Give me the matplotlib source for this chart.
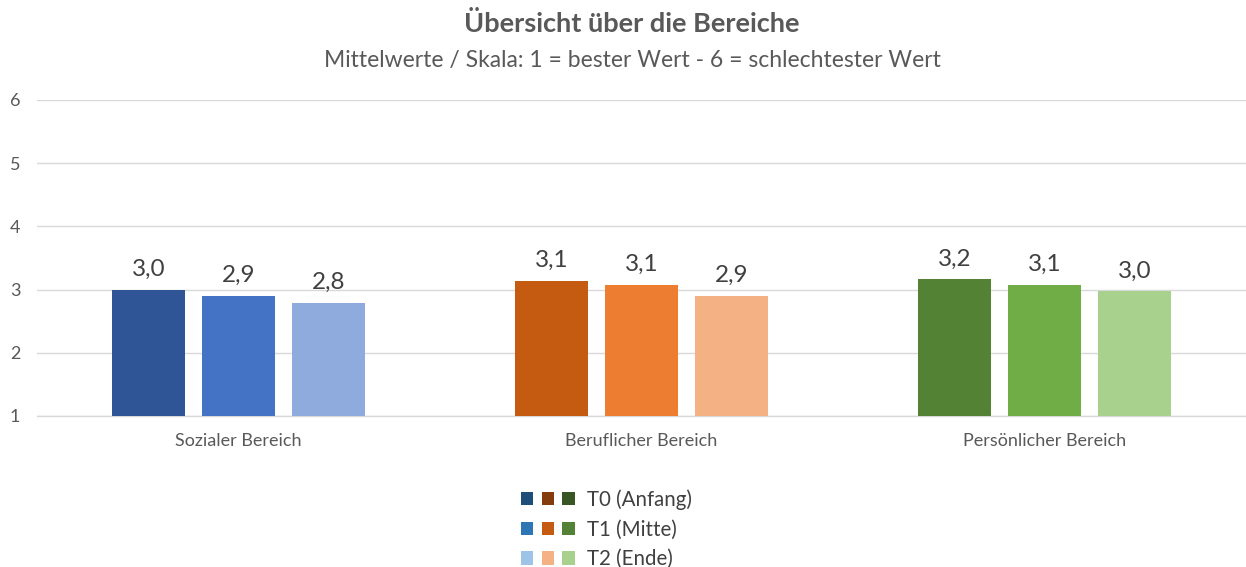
import matplotlib
matplotlib.use("Agg")
import matplotlib.pyplot as plt
from matplotlib.patches import Patch
from matplotlib.legend_handler import HandlerTuple
import numpy as np

plt.rcParams['font.family'] = ['Lato', 'DejaVu Sans']

categories = ["Sozialer Bereich", "Beruflicher Bereich", "Persönlicher Bereich"]
series_names = ["T0 (Anfang)", "T1 (Mitte)", "T2 (Ende)"]
t0_values = [3.00, 3.14, 3.16]
t1_values = [2.90, 3.08, 3.08]
t2_values = [2.79, 2.90, 2.97]
y_ticks = [1, 2, 3, 4, 5, 6]

# bar colours: rows = series (T0,T1,T2), columns = category
bar_colors = [
    ["#2F5597", "#C55A11", "#548235"],
    ["#4472C4", "#ED7D31", "#70AD47"],
    ["#8FAADC", "#F4B183", "#A9D18E"],
]
legend_colors = [
    ["#1F4E79", "#843C0C", "#375623"],
    ["#2E75B6", "#C55A11", "#538135"],
    ["#9DC3E6", "#F4B183", "#A9D18E"],
]

fig = plt.figure(figsize=(12.46, 5.67), dpi=100)
ax = fig.add_axes([37/1246, 1-416/567, 1-37/1246, (416-100)/567])

x = np.arange(len(categories))
offset = 0.223
width = 0.181
all_series = [t0_values, t1_values, t2_values]
for i, vals in enumerate(all_series):
    bars = ax.bar(x + (i-1)*offset, vals, width=width, color=bar_colors[i], zorder=3)
    for b, v in zip(bars, vals):
        ax.annotate(f"{v:.1f}".replace(".", ","), (b.get_x()+b.get_width()/2, v),
                    xytext=(0, 7), textcoords="offset points", ha="center", va="bottom",
                    fontsize=17.5, color="#404040")

ax.set_xlim(-0.5, 2.5)
ax.set_ylim(1, 6)
ax.set_yticks(y_ticks)
ax.set_yticklabels([str(t) for t in y_ticks])
ax.set_xticks(x)
ax.set_xticklabels(categories)
ax.tick_params(axis='y', length=0, pad=12, labelsize=13, labelcolor="#595959")
ax.tick_params(axis='x', length=0, pad=12.5, labelsize=13, labelcolor="#595959")
ax.grid(axis='y', color="#D9D9D9", linewidth=1, zorder=0)
for s in ["top", "right", "left"]:
    ax.spines[s].set_visible(False)
ax.spines["bottom"].set_color("#D9D9D9")
ax.spines["bottom"].set_linewidth(1)

fig.text(632/1246, 1-23/567, "Übersicht über die Bereiche", ha="center", va="center",
         fontsize=19.5, fontweight="bold", color="#595959")
fig.text(632/1246, 1-60/567, "Mittelwerte / Skala: 1 = bester Wert - 6 = schlechtester Wert",
         ha="center", va="center", fontsize=16.5, color="#595959")

handles = [tuple(Patch(facecolor=c) for c in legend_colors[i]) for i in range(3)]
fig.legend(handles, series_names, handler_map={tuple: HandlerTuple(ndivide=None, pad=0.40)},
           loc="upper left", bbox_to_anchor=(521/1246, 1-489/567), frameon=False,
           borderpad=0, borderaxespad=0, handlelength=2.62, handleheight=0.62,
           handletextpad=0.58, labelspacing=0.48, fontsize=14.8, labelcolor="#404040")

fig.savefig("out.png", dpi=100, facecolor="white")
